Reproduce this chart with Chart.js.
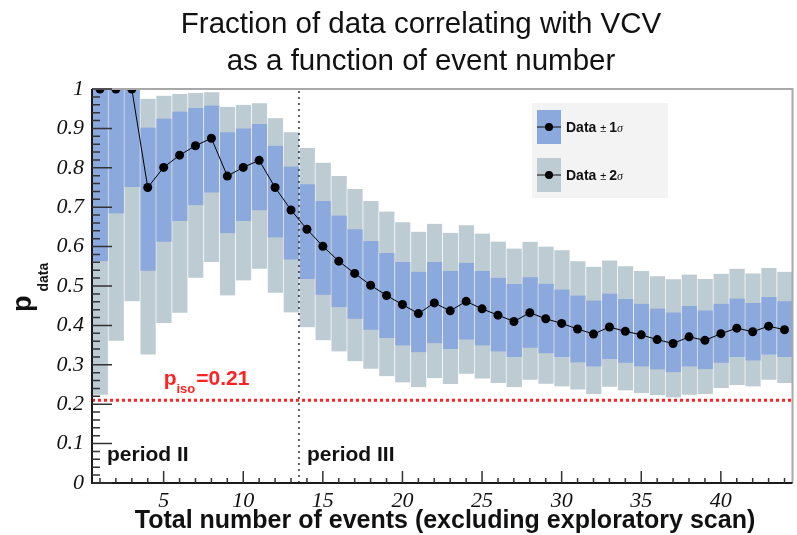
<!DOCTYPE html>
<html>
<head>
<meta charset="utf-8">
<script src="https://cdn.jsdelivr.net/npm/chart.js@4.4.0/dist/chart.umd.min.js"></script>
<style>
  html, body { margin: 0; padding: 0; background: #fff; }
  #wrap { width: 797px; height: 535px; }
</style>
</head>
<body>
<div id="wrap"><canvas id="c" width="797" height="535"></canvas></div>
<script>
// Werte
var events = [1,2,3,4,5,6,7,8,9,10,11,12,13,14,15,16,17,18,19,20,21,22,
  23,24,25,26,27,28,29,30,31,32,33,34,35,36,37,38,39,40,41,42,43,44];
var pData = [1.0,1.0,1.0,0.750,0.801,0.832,0.856,0.875,0.779,0.801,0.819,0.750,0.693,0.644,
  0.601,0.563,0.532,0.502,0.476,0.453,0.430,0.457,0.437,0.461,0.442,0.426,0.410,0.432,
  0.417,0.405,0.391,0.378,0.396,0.385,0.376,0.364,0.354,0.371,0.362,0.379,0.393,0.384,0.398,0.389];
var sig1Low = [0.563,0.684,0.751,0.539,0.612,0.665,0.705,0.737,0.634,0.665,0.692,0.623,0.567,0.518,
  0.478,0.446,0.417,0.389,0.368,0.349,0.332,0.355,0.340,0.364,0.349,0.334,0.320,0.343,
  0.329,0.320,0.306,0.296,0.315,0.305,0.296,0.288,0.281,0.296,0.289,0.305,0.320,0.311,0.326,0.320];
var sig1High = [1.0,1.0,1.0,0.902,0.925,0.943,0.952,0.958,0.890,0.900,0.911,0.856,0.803,0.758,
  0.716,0.679,0.644,0.614,0.584,0.561,0.536,0.561,0.538,0.559,0.538,0.521,0.505,0.522,
  0.506,0.491,0.476,0.463,0.481,0.467,0.455,0.443,0.433,0.449,0.438,0.455,0.468,0.457,0.472,0.461];
var sig2Low = [0.224,0.361,0.461,0.326,0.406,0.432,0.521,0.561,0.476,0.514,0.544,0.483,0.433,0.395,
  0.362,0.334,0.309,0.290,0.271,0.255,0.243,0.266,0.251,0.277,0.265,0.254,0.243,0.262,
  0.252,0.245,0.237,0.226,0.244,0.235,0.228,0.223,0.217,0.224,0.226,0.241,0.249,0.245,0.262,0.254];
var sig2High = [1.0,1.0,1.0,0.975,0.983,0.987,0.990,0.992,0.955,0.960,0.964,0.926,0.890,0.850,
  0.813,0.779,0.746,0.716,0.689,0.662,0.638,0.658,0.635,0.654,0.633,0.613,0.595,0.612,
  0.600,0.591,0.563,0.549,0.565,0.550,0.538,0.525,0.517,0.529,0.518,0.531,0.544,0.532,0.546,0.536];
var pIso = 0.21;
var periodSplit = 13.5;
var xRange = [0.5, 44.5];
var xTickVals = [5,10,15,20,25,30,35,40];
var yTickVals = [0,0.1,0.2,0.3,0.4,0.5,0.6,0.7,0.8,0.9,1];
var yTickLabels = ['0','0.1','0.2','0.3','0.4','0.5','0.6','0.7','0.8','0.9','1'];
var titleLines = ['Fraction of data correlating with VCV', 'as a function of event number'];
var xTitle = 'Total number of events (excluding exploratory scan)';
var legendSigmas = ['1', '2'];
var periodLabels = ['period II', 'period III'];

var blue = '#8ba9dd';
var grey = '#bdcbd2';
var red = '#ff2222';

function pts(ys) {
  return events.map(function(e, i) { return { x: e, y: ys[i] }; });
}
function band(lo, hi) {
  return events.map(function(e, i) { return { x: e, y: [lo[i], hi[i]] }; });
}

// Ticks nach innen, Rahmen und Texte (ROOT-Stil)
var decor = {
  id: 'decor',
  afterDatasetsDraw: function(chart) {
    var ctx = chart.ctx, a = chart.chartArea;
    var xs = chart.scales.x, ys = chart.scales.y;
    ctx.save();
    // Rahmen oben/rechts
    ctx.strokeStyle = '#a8a8a8';
    ctx.lineWidth = 2;
    ctx.beginPath();
    ctx.moveTo(a.left, a.top); ctx.lineTo(a.right, a.top); ctx.lineTo(a.right, a.bottom);
    ctx.stroke();
    // Achsen links/unten
    ctx.strokeStyle = '#1a1a1a';
    ctx.beginPath();
    ctx.moveTo(a.left, a.top); ctx.lineTo(a.left, a.bottom); ctx.lineTo(a.right, a.bottom);
    ctx.stroke();
    ctx.lineWidth = 1.5;
    ctx.strokeStyle = '#333';
    ctx.beginPath();
    for (var k = 0; k <= 50; k++) {
      var py = ys.getPixelForValue(k / 50);
      var len = (k % 5 === 0) ? 20 : 8;
      ctx.moveTo(a.left, py); ctx.lineTo(a.left + len, py);
    }
    for (var j = 1; j <= 44; j++) {
      var px = xs.getPixelForValue(j);
      var l2 = (j % 5 === 0) ? 12 : 5;
      ctx.moveTo(px, a.bottom); ctx.lineTo(px, a.bottom - l2);
    }
    ctx.stroke();
    ctx.restore();
  },
  afterDraw: function(chart) {
    var ctx = chart.ctx, a = chart.chartArea;
    var xs = chart.scales.x, ys = chart.scales.y;
    ctx.save();
    // Titel
    ctx.fillStyle = '#111';
    ctx.textAlign = 'center';
    ctx.textBaseline = 'middle';
    ctx.font = '29.5px "Liberation Sans", Arial, sans-serif';
    ctx.fillText(titleLines[0], 421, 25);
    ctx.fillText(titleLines[1], 421, 62);

    // x-Achsentitel
    ctx.font = 'bold 25px "Liberation Sans", Arial, sans-serif';
    ctx.fillText(xTitle, 445, 521);

    // y-Achsentitel p_data
    ctx.save();
    ctx.translate(31, 312);
    ctx.rotate(-Math.PI / 2);
    ctx.textAlign = 'left';
    ctx.textBaseline = 'alphabetic';
    ctx.font = 'bold 27px "Liberation Sans", Arial, sans-serif';
    ctx.fillText('p', 0, 0);
    var pw = ctx.measureText('p').width;
    ctx.font = 'bold 14px "Liberation Sans", Arial, sans-serif';
    ctx.fillText('data', pw + 4, 17);
    ctx.restore();

    // p_iso Beschriftung
    ctx.fillStyle = red;
    ctx.textAlign = 'left';
    ctx.textBaseline = 'alphabetic';
    var lx = xs.getPixelForValue(5.0);
    var ly = ys.getPixelForValue(0.249);
    ctx.font = 'bold 21px "Liberation Sans", Arial, sans-serif';
    ctx.fillText('p', lx, ly);
    var w1 = ctx.measureText('p').width;
    ctx.font = 'bold 13px "Liberation Sans", Arial, sans-serif';
    ctx.fillText('iso', lx + w1, ly + 8);
    var w2 = ctx.measureText('iso').width;
    ctx.font = 'bold 21px "Liberation Sans", Arial, sans-serif';
    ctx.fillText('=' + pIso.toFixed(2), lx + w1 + w2 + 1, ly);

    // Perioden
    ctx.fillStyle = '#111';
    ctx.font = 'bold 21px "Liberation Sans", Arial, sans-serif';
    var py2 = ys.getPixelForValue(0.057);
    ctx.fillText(periodLabels[0], xs.getPixelForValue(xRange[0]) + 15, py2);
    ctx.fillText(periodLabels[1], xs.getPixelForValue(periodSplit) + 8, py2);

    // Legende
    var bx = 532, by = 103, bw = 136, bh = 95;
    ctx.fillStyle = '#f3f3f3';
    ctx.fillRect(bx, by, bw, bh);
    var cols = [blue, grey];
    for (var i = 0; i < 2; i++) {
      var cy = by + 24 + i * 48;
      ctx.fillStyle = cols[i];
      ctx.fillRect(bx + 5, cy - 17, 24, 34);
      ctx.strokeStyle = '#111';
      ctx.lineWidth = 1;
      ctx.beginPath(); ctx.moveTo(bx + 5, cy); ctx.lineTo(bx + 29, cy); ctx.stroke();
      ctx.fillStyle = '#000';
      ctx.beginPath(); ctx.arc(bx + 17, cy, 4, 0, Math.PI * 2); ctx.fill();
      ctx.fillStyle = '#111';
      ctx.textBaseline = 'middle';
      var tx = bx + 34;
      ctx.font = 'bold 14px "Liberation Sans", Arial, sans-serif';
      ctx.fillText('Data', tx, cy + 1); tx += ctx.measureText('Data ').width;
      ctx.font = '11px "Liberation Sans", Arial, sans-serif';
      ctx.fillText('\u00b1', tx, cy + 2); tx += ctx.measureText('\u00b1 ').width;
      ctx.font = 'bold 14px "Liberation Sans", Arial, sans-serif';
      ctx.fillText(legendSigmas[i], tx, cy + 1); tx += ctx.measureText(legendSigmas[i]).width;
      ctx.font = 'italic 12px "Liberation Serif", serif';
      ctx.fillText('\u03c3', tx, cy + 2);
    }
    ctx.restore();
  }
};

var ctx = document.getElementById('c').getContext('2d');
new Chart(ctx, {
  type: 'bar',
  data: {
    datasets: [
      {
        type: 'line', data: pts(pData), order: 0,
        borderColor: '#000', borderWidth: 1, pointRadius: 4.5,
        pointBackgroundColor: '#000', pointBorderWidth: 0
      },
      {
        type: 'line', order: 0,
        data: [{ x: xRange[0], y: pIso }, { x: xRange[1], y: pIso }],
        borderColor: red, borderWidth: 3, borderDash: [3, 3], pointRadius: 0
      },
      {
        type: 'line', order: 0,
        data: [{ x: periodSplit, y: 0 }, { x: periodSplit, y: 1 }],
        borderColor: '#333', borderWidth: 1.5, borderDash: [2, 4], pointRadius: 0
      },
      {
        label: 'Data \u00b1 1\u03c3', data: band(sig1Low, sig1High), order: 1,
        backgroundColor: blue, borderColor: 'rgba(255,255,255,0.25)',
        borderWidth: { left: 1, right: 0, top: 0, bottom: 0 }, borderSkipped: false,
        grouped: false, barPercentage: 1, categoryPercentage: 1
      },
      {
        label: 'Data \u00b1 2\u03c3', data: band(sig2Low, sig2High), order: 2,
        backgroundColor: grey, borderColor: 'rgba(255,255,255,0.25)',
        borderWidth: { left: 1, right: 0, top: 0, bottom: 0 }, borderSkipped: false,
        grouped: false, barPercentage: 1, categoryPercentage: 1
      }
    ]
  },
  options: {
    responsive: false,
    animation: false,
    layout: { padding: { top: 89, right: 2, left: 0, bottom: 0 } },
    plugins: { legend: { display: false }, tooltip: { enabled: false }, title: { display: false } },
    scales: {
      x: {
        type: 'linear', min: xRange[0], max: xRange[1], offset: false,
        grid: { display: false, drawTicks: false }, border: { display: false },
        afterBuildTicks: function(s) { s.ticks = xTickVals.map(function(v) { return { value: v }; }); },
        afterFit: function(s) { s.height = 52; },
        ticks: {
          padding: 5, maxRotation: 0, color: '#111',
          font: { family: '"Liberation Serif", serif', style: 'italic', size: 22 },
          callback: function(v) { return String(v); }
        }
      },
      y: {
        min: 0, max: 1,
        grid: { display: false, drawTicks: false }, border: { display: false },
        afterBuildTicks: function(s) { s.ticks = yTickVals.map(function(v) { return { value: v }; }); },
        afterFit: function(s) { s.width = 92; },
        ticks: {
          padding: 8, color: '#111',
          font: { family: '"Liberation Serif", serif', style: 'italic', size: 22 },
          callback: function(v, i) { return yTickLabels[i]; }
        }
      }
    }
  },
  plugins: [decor]
});
</script>
</body>
</html>
